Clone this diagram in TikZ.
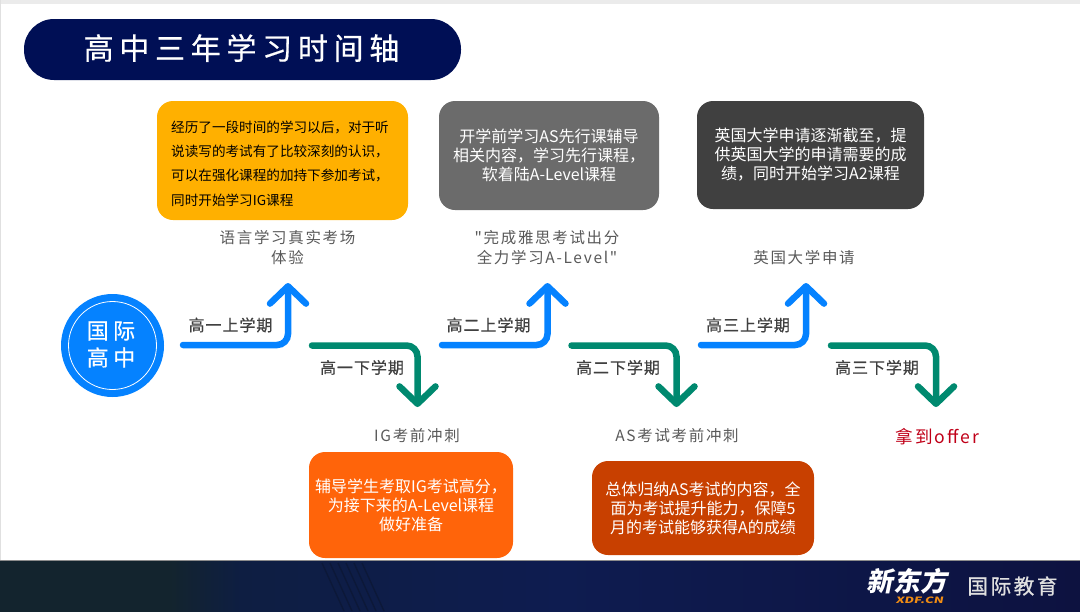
\documentclass[tikz,border=0pt]{standalone}
\usepackage{fontspec}
\setmainfont{Noto Sans CJK SC}
\newfontfamily\labelfont[LetterSpace=11]{Noto Sans CJK SC}
\newfontfamily\termfont[LetterSpace=6,FakeBold=0.6]{Noto Sans CJK SC}
\newfontfamily\titlefont[LetterSpace=19,FakeBold=0.5]{Noto Sans CJK SC}
\newfontfamily\circlefont[LetterSpace=20,FakeBold=0.5]{Noto Sans CJK SC}
\newfontfamily\logofont[LetterSpace=12,FakeBold=0.8]{Noto Sans CJK SC}
\usetikzlibrary{arrows.meta,positioning}
\definecolor{xdfnavy}{RGB}{0,15,85}
\definecolor{xdfamber}{RGB}{255,176,0}
\definecolor{xdfgrey}{RGB}{107,107,107}
\definecolor{xdfdark}{RGB}{64,64,64}
\definecolor{xdforange}{RGB}{255,100,10}
\definecolor{xdfrust}{RGB}{200,64,0}
\definecolor{xdfblue}{RGB}{5,130,255}
\definecolor{xdfgreen}{RGB}{0,137,111}
\definecolor{xdflabel}{RGB}{89,89,89}
\definecolor{xdfred}{RGB}{192,0,24}
\definecolor{xdfterm}{RGB}{64,64,64}
\definecolor{footteal}{RGB}{19,36,46}
\definecolor{footnavy}{RGB}{14,30,66}
\definecolor{footmid}{RGB}{14,28,80}
\definecolor{footend}{RGB}{13,18,64}
\definecolor{footline}{RGB}{12,24,56}
\definecolor{tagorange}{RGB}{240,140,20}
\def\px{0.75pt}
\tikzset{
  infobox/.style={rounded corners=16*\px, text=white, align=center, inner sep=0pt,
    font=\fontsize{12}{14.25}\selectfont},
  stagelabel/.style={text=xdflabel, align=center, inner sep=0pt,
    font=\labelfont\fontsize{11.6}{15}\selectfont},
  termlabel/.style={text=xdfterm, inner sep=0pt, font=\termfont\fontsize{12}{14}\selectfont},
  upstep/.style={xdfblue, line width=6.5*\px, line cap=round, rounded corners=11*\px,
    -{Straight Barb[length=13pt,width=27pt,round]}},
  downstep/.style={upstep, xdfgreen},
}
\begin{document}
\begin{tikzpicture}[x=0.75pt,y=-0.75pt]
\useasboundingbox (0,0) rectangle (1080,611);
% Page edge
\fill[black!8] (0,0) rectangle (1080,4);
\fill[black!12] (0,0) rectangle (1,560);
% Title
\node[fill=xdfnavy, rounded corners=30*\px, minimum width=437*\px, minimum height=61*\px,
      inner sep=0pt] (titlebar) at (242.5,49.5) {};
\node[text=white, inner sep=0pt, font=\titlefont\fontsize{22.5}{24}\selectfont] (titletext) at (241.5,48) {高中三年学习时间轴};
% Upper boxes
\node[infobox, fill=xdfamber, minimum width=251*\px, minimum height=119*\px] (amberbox) at (282.5,160.5) {};
\node[text=black, align=left, inner sep=0pt, font=\fontsize{10.2}{18.3}\selectfont] (ambertext) at (280,163.5)
  {经历了一段时间的学习以后，对于听\\说读写的考试有了比较深刻的认识，\\可以在强化课程的加持下参加考试，\\同时开始学习IG课程\hspace{63pt}};
\node[infobox, fill=xdfgrey, minimum width=220*\px, minimum height=109*\px] (greybox) at (549,155.5)
  {开学前学习AS先行课辅导\\相关内容，学习先行课程，\\软着陆A-Level课程};
\node[infobox, fill=xdfdark, minimum width=227*\px, minimum height=108*\px] (darkbox) at (810.5,155)
  {英国大学申请逐渐截至，提\\供英国大学的申请需要的成\\绩，同时开始学习A2课程};
% Stage labels
\node[stagelabel] (stageone) at (287.5,248) {语言学习真实考场\\体验};
\node[stagelabel] (stagethree) at (547,248) {"完成雅思考试出分\\全力学习A-Level"};
\node[stagelabel] (stagefive) at (804,257.5) {英国大学申请};
\node[stagelabel] (stagetwo) at (417,435.5) {IG考前冲刺};
\node[stagelabel] (stagefour) at (677,435.5) {AS考试考前冲刺};
\node[stagelabel, text=xdfred, font=\labelfont\fontsize{13.2}{15}\selectfont] (stagesix) at (937.5,437) {拿到offer};
% Circle
\node[circle, fill=xdfblue, minimum size=103*\px, inner sep=0pt] (startdisc) at (112.5,345.5) {};
\draw[white, line width=0.6pt] (startdisc.center) circle (44);
\node[text=white, align=center, inner sep=0pt, font=\circlefont\fontsize{16.5}{20.25}\selectfont] (starttext) at (111,344.5) {国际\\高中};
% Steps
\coordinate (upa) at (183,345);
\coordinate (upb) at (288,283);
\draw[upstep] (upa) -- (upa -| upb) -- (upb);
\coordinate (upc) at (442,345);
\coordinate (upd) at (547.5,283);
\draw[upstep] (upc) -- (upc -| upd) -- (upd);
\coordinate (upe) at (701,345);
\coordinate (upf) at (806,283);
\draw[upstep] (upe) -- (upe -| upf) -- (upf);
\coordinate (downa) at (312,345.5);
\coordinate (downb) at (417.5,407);
\draw[downstep] (downa) -- (downa -| downb) -- (downb);
\coordinate (downc) at (571.5,345.5);
\coordinate (downd) at (676.5,407);
\draw[downstep] (downc) -- (downc -| downd) -- (downd);
\coordinate (downe) at (831,345.5);
\coordinate (downf) at (936,407);
\draw[downstep] (downe) -- (downe -| downf) -- (downf);
% Term labels
\node[termlabel] (termone) at (230.5,325) {高一上学期};
\node[termlabel] (termtwo) at (362,367.5) {高一下学期};
\node[termlabel] (termthree) at (488.5,325) {高二上学期};
\node[termlabel] (termfour) at (618,367.5) {高二下学期};
\node[termlabel] (termfive) at (748,325) {高三上学期};
\node[termlabel] (termsix) at (877,367.5) {高三下学期};
% Lower boxes
\node[infobox, fill=xdforange, minimum width=204*\px, minimum height=106*\px] (orangebox) at (411,505)
  {辅导学生考取IG考试高分，\\为接下来的A-Level课程\\做好准备};
\node[infobox, fill=xdfrust, minimum width=222*\px, minimum height=94*\px] (rustbox) at (703,508)
  {总体归纳AS考试的内容，全\\面为考试提升能力，保障5\\月的考试能够获得A的成绩};
% Footer
\fill[footteal] (0,560) rectangle (172,614);
\shade[left color=footteal, right color=footnavy] (170,560) rectangle (240,614);
\shade[left color=footnavy, right color=footmid] (240,560) rectangle (560,614);
\shade[left color=footmid, right color=footend] (560,560) rectangle (1081,614);
\foreach \x in {322,330,338,346,354,362}
  \draw[footline, line width=1pt] (\x,563) -- (\x+22,611);
\draw[black!45, line width=0.5pt] (0,560) -- (1080,560);
% Logo
\node[text=white, inner sep=0pt, font=\bfseries\fontsize{20}{22}\selectfont, xslant=0.2] (logomark) at (909,581) {新东方};
\node[text=tagorange, inner sep=0pt, font=\bfseries\fontsize{6.5}{7}\selectfont, xslant=0.2, xscale=1.5] (logotag) at (920,600.5) {XDF.CN};
\node[text=white!88!black, inner sep=0pt, font=\logofont\fontsize{15.5}{18}\selectfont] (logoname) at (1012.5,586) {国际教育};
\end{tikzpicture}
\end{document}
